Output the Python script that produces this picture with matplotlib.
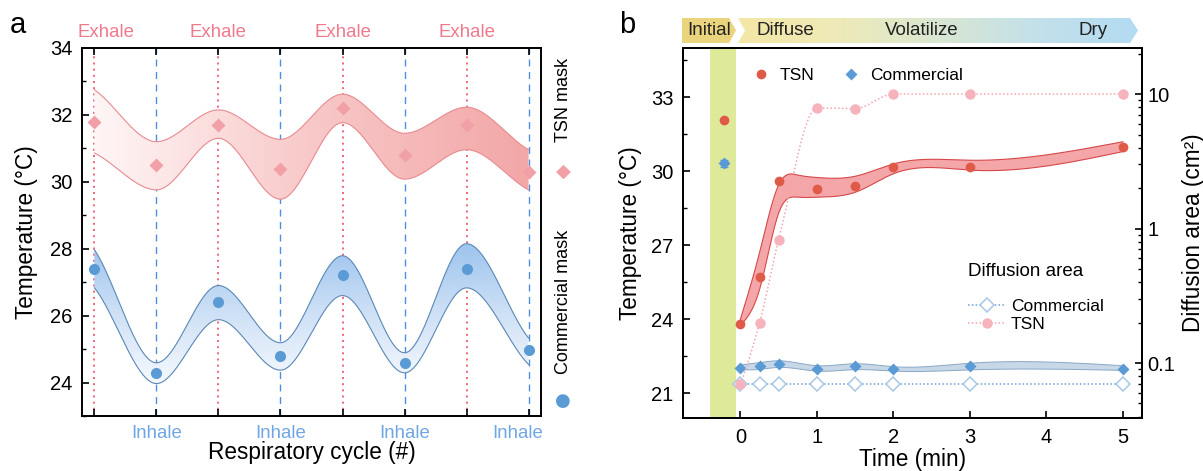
import numpy as np
import matplotlib

matplotlib.use("Agg")
import matplotlib.pyplot as plt
from matplotlib.colors import LinearSegmentedColormap
from matplotlib.patches import PathPatch, Polygon
from matplotlib.lines import Line2D
from matplotlib.ticker import MultipleLocator, FixedLocator, LogLocator, NullFormatter

plt.rcParams["font.family"] = ["Liberation Sans", "DejaVu Sans"]

# ---------------- panel a data ----------------
cycle_pos = [0, 1, 2, 3, 4, 5, 6, 7]
tsn_mask = [31.8, 30.49, 31.7, 30.39, 32.2, 30.8, 31.7, 30.29]
tsn_hi = [32.75, 31.2, 32.15, 31.27, 32.62, 31.45, 32.23, 30.96]
tsn_lo = [30.86, 29.76, 31.3, 29.48, 31.77, 30.08, 30.96, 29.76]
com_mask = [27.4, 24.29, 26.4, 24.79, 27.2, 24.59, 27.4, 24.98]
com_hi = [27.97, 24.59, 26.9, 25.19, 27.79, 24.89, 28.15, 25.33]
com_lo = [26.83, 23.97, 25.88, 24.37, 26.6, 24.29, 26.83, 24.54]
exhale_pos = [0, 2, 4, 6]
inhale_pos = [1, 3, 5, 7]
exhale_label_x = [0.18, 2, 4, 6]
inhale_label_x = [1, 3, 5, 6.82]

# ---------------- panel b data ----------------
t = [0, 0.25, 0.5, 1, 1.5, 2, 3, 5]
t_init = -0.22
tsn_temp = [23.82, 25.7, 29.6, 29.28, 29.4, 30.18, 30.18, 31.0]
band_t = [0, 0.25, 0.5, 0.75, 1, 1.5, 2, 3, 5]
tsn_temp_hi = [24.0, 26.7, 29.45, 29.85, 29.75, 29.8, 30.3, 30.45, 31.2]
tsn_temp_lo = [23.75, 25.2, 28.3, 28.95, 28.95, 29.15, 29.9, 30.05, 30.8]
com_temp = [22.04, 22.1, 22.2, 22.0, 22.1, 22.0, 22.1, 22.0]
com_temp_hi = [22.15, 22.25, 22.32, 22.12, 22.2, 22.08, 22.22, 22.12]
com_temp_lo = [21.95, 21.97, 22.05, 21.9, 21.96, 21.9, 21.95, 21.93]
tsn_init, com_init, com_init_err = 32.1, 30.32, 0.15
tsn_area = [0.07, 0.198, 0.826, 7.87, 7.8, 10, 10, 10]
com_area = [0.07, 0.07, 0.07, 0.07, 0.07, 0.07, 0.07, 0.07]
stages = ["Initial", "Diffuse", "Volatilize", "Dry"]

W, H = 1203, 471


def pchip(x, y, xs):
    x = np.asarray(x, float)
    y = np.asarray(y, float)
    h = np.diff(x)
    d = np.diff(y) / h
    m = np.zeros_like(y)
    for k in range(1, len(x) - 1):
        if d[k - 1] * d[k] > 0:
            w1 = 2 * h[k] + h[k - 1]
            w2 = h[k] + 2 * h[k - 1]
            m[k] = (w1 + w2) / (w1 / d[k - 1] + w2 / d[k])
    m[0], m[-1] = d[0] * 0.8, d[-1] * 0.8
    i = np.clip(np.searchsorted(x, xs) - 1, 0, len(h) - 1)
    s = (xs - x[i]) / h[i]
    return ((2 * s**3 - 3 * s**2 + 1) * y[i] + (s**3 - 2 * s**2 + s) * h[i] * m[i]
            + (-2 * s**3 + 3 * s**2) * y[i + 1] + (s**3 - s**2) * h[i] * m[i + 1])


def nspline(x, y, xs):
    # natural cubic spline
    x = np.asarray(x, float)
    y = np.asarray(y, float)
    n = len(x)
    h = np.diff(x)
    A = np.zeros((n, n))
    r = np.zeros(n)
    A[0, 0] = A[-1, -1] = 1
    for k in range(1, n - 1):
        A[k, k - 1], A[k, k], A[k, k + 1] = h[k - 1], 2 * (h[k - 1] + h[k]), h[k]
        r[k] = 6 * ((y[k + 1] - y[k]) / h[k] - (y[k] - y[k - 1]) / h[k - 1])
    M = np.linalg.solve(A, r)
    i = np.clip(np.searchsorted(x, xs) - 1, 0, n - 2)
    hh = h[i]
    a = x[i + 1] - xs
    b = xs - x[i]
    return (M[i] * a**3 / (6 * hh) + M[i + 1] * b**3 / (6 * hh)
            + (y[i] / hh - M[i] * hh / 6) * a + (y[i + 1] / hh - M[i + 1] * hh / 6) * b)


def grad_band(ax, x, lo, hi, colors, vertical, edge, lw=0.8, z=2, interp=pchip):
    xs = np.linspace(min(x), max(x), 500)
    lo_s, hi_s = interp(x, lo, xs), interp(x, hi, xs)
    poly = ax.fill_between(xs, lo_s, hi_s, facecolor="none", edgecolor="none")
    patch = PathPatch(poly.get_paths()[0], transform=ax.transData,
                      facecolor="none", edgecolor="none")
    ax.add_patch(patch)
    g = np.linspace(0, 1, 256)
    img = g[:, None] if vertical else g[None, :]
    cmap = LinearSegmentedColormap.from_list("g", colors)
    im = ax.imshow(img, cmap=cmap, aspect="auto", origin="lower", zorder=z,
                   extent=[xs.min(), xs.max(), lo_s.min(), hi_s.max()])
    im.set_clip_path(patch)
    ax.plot(xs, hi_s, color=edge, lw=lw, zorder=z + 0.1)
    ax.plot(xs, lo_s, color=edge, lw=lw, zorder=z + 0.1)


fig = plt.figure(figsize=(W / 100, H / 100), dpi=100)

# ================= panel a =================
ax = fig.add_axes([82 / W, 1 - 416 / H, 459 / W, 368 / H])
for xp in exhale_pos:
    ax.axvline(xp, color="#ee4d63", ls=(0, (1.2, 2.5)), lw=1.2, zorder=1)
for xp in inhale_pos:
    ax.axvline(xp, color="#4a8fe0", ls=(0, (5, 4)), lw=1.0, zorder=1)

grad_band(ax, cycle_pos, tsn_lo, tsn_hi, ["#fff6f6", "#f8c8c8", "#f3a7a7"],
          vertical=False, edge="#e88a90")
grad_band(ax, cycle_pos, com_lo, com_hi, ["#f6f9fe", "#cfe1f6", "#9ec4ee"],
          vertical=True, edge="#5a88b6")
ax.plot(cycle_pos, tsn_mask, "D", color="#f2a0a8", ms=7.5, mec="none", zorder=5)
ax.plot(cycle_pos, com_mask, "o", color="#5b9bd5", ms=8, mec="none", zorder=5)

ax.set_xlim(-0.2, 7.2)
ax.set_ylim(23, 34)
ax.set_xticks(cycle_pos)
ax.set_xticklabels([])
ax.set_yticks([24, 26, 28, 30, 32, 34])
ax.yaxis.set_minor_locator(MultipleLocator(1))
ax.tick_params(axis="x", direction="in", top=True, length=5, width=1.2)
ax.tick_params(axis="y", which="major", direction="in", length=5, width=1.2,
               labelsize=14.5, pad=7)
ax.tick_params(axis="y", which="minor", direction="in", length=3, width=1.0)
for sp in ax.spines.values():
    sp.set_linewidth(1.4)

tr = ax.get_xaxis_transform()
for xl in exhale_label_x:
    ax.text(xl, 1.041, "Exhale", transform=tr, ha="center", va="center",
            fontsize=13.4, color="#ef7a8c")
for xl in inhale_label_x:
    ax.text(xl, -0.047, "Inhale", transform=tr, ha="center", va="center",
            fontsize=13.4, color="#6fa6e6")

ax.set_xlabel("Respiratory cycle (#)", fontsize=16.3)
ax.xaxis.set_label_coords(0.5, -0.098)
ax.xaxis.label.set_va("center")
ax.set_ylabel("Temperature (\u00b0C)", fontsize=16.3)
ax.yaxis.set_label_coords(-0.122, 0.5)
ax.yaxis.label.set_va("center")

ax.text(1.048, 0.86, "TSN mask", transform=ax.transAxes, rotation=90,
        ha="center", va="center", fontsize=13)
ax.text(1.048, 0.665, "\u25c6", transform=ax.transAxes, ha="center", va="center",
        fontsize=14, color="#f2a0a8", family="DejaVu Sans")
ax.text(1.048, 0.31, "Commercial mask", transform=ax.transAxes, rotation=90,
        ha="center", va="center", fontsize=13)
ax.text(1.048, 0.04, "\u25cf", transform=ax.transAxes, ha="center", va="center",
        fontsize=13, color="#5b9bd5", family="DejaVu Sans")

fig.text(18 / W, 1 - 25 / H, "a", fontsize=21, ha="center", va="center")

# ================= panel b =================
bx = fig.add_axes([683 / W, 1 - 418 / H, 459 / W, 370 / H])
bx.axvspan(-0.4, -0.06, color="#dfe99a", lw=0, zorder=0)

grad_band(bx, band_t, tsn_temp_lo, tsn_temp_hi, ["#f4a6a8", "#f4a6a8"],
          vertical=True, edge="#d6484a", lw=0.8, interp=nspline)
grad_band(bx, t, com_temp_lo, com_temp_hi, ["#c8d8e8", "#c8d8e8"],
          vertical=True, edge="#8aa8c6", lw=0.7, interp=nspline)
bx.plot(t, tsn_temp, "o", color="#e05a48", ms=7, mec="none", zorder=6)
bx.plot(t, com_temp, "D", color="#5b9bd5", ms=6.5, mec="none", zorder=6)
bx.plot([t_init], [tsn_init], "o", color="#e05a48", ms=7, mec="none", zorder=6)
bx.errorbar([t_init], [com_init], yerr=[com_init_err], fmt="D", color="#5b9bd5",
            ms=6.5, mec="none", capsize=3, elinewidth=1, zorder=6)

bx.set_xlim(-0.75, 5.25)
bx.set_ylim(20, 35)
bx.set_xticks([0, 1, 2, 3, 4, 5])
bx.set_yticks([21, 24, 27, 30, 33])
bx.yaxis.set_minor_locator(MultipleLocator(1.5))
bx.tick_params(axis="both", which="major", direction="in", length=5, width=1.2,
               labelsize=14.5)
bx.tick_params(axis="x", pad=7)
bx.tick_params(axis="y", pad=7)
bx.tick_params(axis="y", which="minor", direction="in", length=3, width=1.0)
for sp in bx.spines.values():
    sp.set_linewidth(1.4)

bx.set_xlabel("Time (min)", fontsize=16.3)
bx.xaxis.set_label_coords(0.5, -0.113)
bx.xaxis.label.set_va("center")
bx.set_ylabel("Temperature (\u00b0C)", fontsize=16.3)
bx.yaxis.set_label_coords(-0.115, 0.5)
bx.yaxis.label.set_va("center")

b2 = bx.twinx()
b2.set_yscale("log")
b2.set_ylim(0.039, 22)
ts = np.linspace(0, 5, 500)
b2.plot(ts, 10 ** pchip(t, np.log10(com_area), ts), color="#6b9fd3",
        ls=(0, (1, 1.5)), lw=1.1, zorder=3)
b2.plot(t, com_area, "D", ls="none", mfc="white", mec="#a9c8e6", ms=7, mew=1.1, zorder=4)
b2.plot(ts, 10 ** pchip(t, np.log10(tsn_area), ts), color="#f4a3ad",
        ls=(0, (1, 1.5)), lw=1.1, zorder=3)
b2.plot(t, tsn_area, "o", color="#f7b3bc", ms=7.5, mec="none", zorder=4)
b2.yaxis.set_major_locator(FixedLocator([0.1, 1, 10]))
b2.set_yticklabels(["0.1", "1", "10"])
b2.yaxis.set_minor_locator(LogLocator(subs=np.arange(2, 10)))
b2.yaxis.set_minor_formatter(NullFormatter())
b2.tick_params(axis="y", which="major", direction="in", length=5, width=1.2,
               labelsize=14.5, pad=4)
b2.tick_params(axis="y", which="minor", direction="in", length=3, width=1.0)
for sp in b2.spines.values():
    sp.set_linewidth(1.4)
b2.set_ylabel("Diffusion area (cm\u00b2)", fontsize=16.3)
b2.yaxis.set_label_coords(1.113, 0.5)
b2.yaxis.label.set_va("center")

# legends
h1 = [Line2D([], [], ls="none", marker="o", color="#e05a48", mec="none", ms=7),
      Line2D([], [], ls="none", marker="D", color="#5b9bd5", mec="none", ms=6.5)]
leg1 = b2.legend(h1, ["TSN", "Commercial"], ncol=2, frameon=False, fontsize=12.5,
                 loc="center left", bbox_to_anchor=(0.15, 0.925), handlelength=1.0,
                 handletextpad=0.6, columnspacing=1.6, borderaxespad=0, borderpad=0)
b2.add_artist(leg1)
h2 = [Line2D([], [], ls=(0, (1, 1.5)), lw=1.1, color="#6b9fd3", marker="D",
             mfc="white", mec="#a9c8e6", ms=7, mew=1.1),
      Line2D([], [], ls=(0, (1, 1.5)), lw=1.1, color="#f4a3ad", marker="o",
             mfc="#f7b3bc", mec="none", ms=7.5)]
leg2 = b2.legend(h2, ["Commercial", "TSN"], title="Diffusion area", frameon=False,
                 fontsize=12.5, title_fontsize=13.5, loc="upper left",
                 bbox_to_anchor=(0.62, 0.42), handlelength=2.2, handletextpad=0.3,
                 labelspacing=0.15, borderaxespad=0, borderpad=0)
leg2._legend_box.align = "left"
leg2._legend_box.sep = 14

fig.text(627 / W, 1 - 25 / H, "b", fontsize=21, ha="center", va="center")

# stage banner
ban = fig.add_axes([682 / W, 1 - 43 / H, 456 / W, 25 / H])
ban.set_xlim(0, 456)
ban.set_ylim(0, 25)
ban.axis("off")
ban.add_patch(Polygon([(0, 0), (47, 0), (54, 12.5), (47, 25), (0, 25)],
                      closed=True, facecolor="#ead47e", edgecolor="none"))
arrow = Polygon([(56, 0), (448, 0), (456, 12.5), (448, 25), (56, 25), (63, 12.5)],
                closed=True, facecolor="none", edgecolor="none")
ban.add_patch(arrow)
bcmap = LinearSegmentedColormap.from_list(
    "ban", ["#f4e7a6", "#eeeab8", "#d9e7d2", "#c3e0ea", "#b3dbf2"])
bim = ban.imshow(np.linspace(0, 1, 256)[None, :], cmap=bcmap, aspect="auto",
                 extent=[56, 456, 0, 25])
bim.set_clip_path(arrow)
for lab, xc in zip(stages, [27, 103, 240, 411]):
    ban.text(xc, 12.5, lab, ha="center", va="center", fontsize=13.5, color="#222222")

fig.savefig("out.png", dpi=100)
